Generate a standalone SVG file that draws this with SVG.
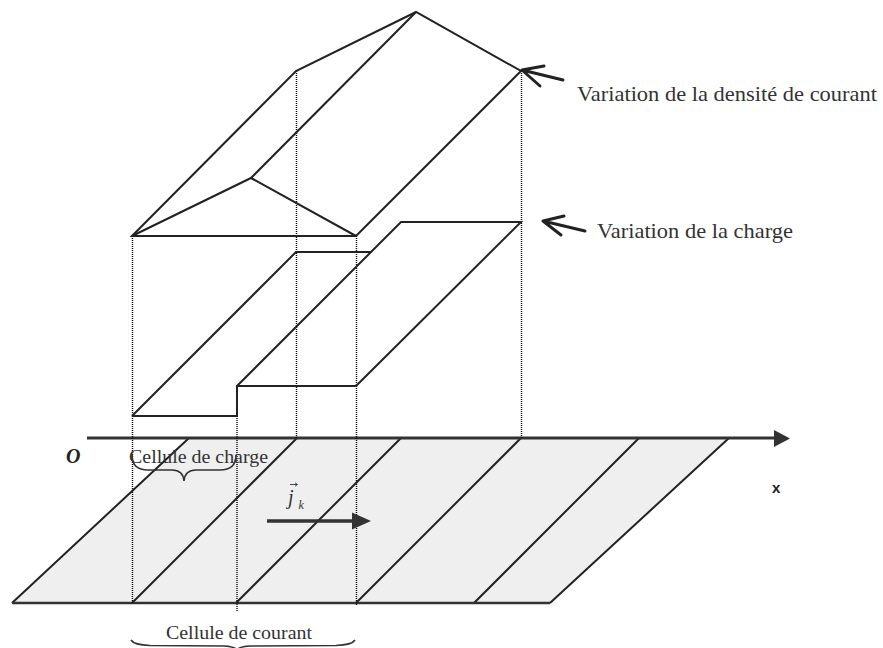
<svg xmlns="http://www.w3.org/2000/svg" width="883" height="648" viewBox="0 0 883 648">
<style>
.ln{fill:none;stroke:#222;stroke-width:2;stroke-linejoin:miter}
.dot{fill:none;stroke:#000;stroke-width:1.4;stroke-dasharray:1 1}
.lbl{font-family:"Liberation Serif","Times New Roman",serif;fill:#333}
.arr{fill:none;stroke:#222;stroke-width:3;stroke-linecap:round;stroke-linejoin:round}
.brace{fill:none;stroke:#333;stroke-width:1.6}
.sym{font-family:"Liberation Serif","Times New Roman",serif;font-weight:bold;font-style:italic;fill:#222}
.sans{font-family:"Liberation Sans",Arial,sans-serif;font-weight:bold;fill:#222}
</style>
<rect width="883" height="648" fill="#fff"/>

<g id="floor">
<path d="M189,438 L729,438 L550,603 L12,603 Z" fill="#efefef" stroke="none"/>
<path class="ln" d="M189,438 L12,603 M297,438 L132,603 M401,438 L236,603 M521,438 L356,603 M639,438 L474,603 M729,438 L550,603"/>
<line x1="12" y1="603" x2="550" y2="603" stroke="#333" stroke-width="2.6"/>
</g>

<g id="axis">
<line x1="87" y1="438" x2="776" y2="438" stroke="#333" stroke-width="3"/>
<path d="M774,430 L790,438.5 L774,447 Z" fill="#333"/>
<text class="sym" x="66" y="463" font-size="20">O</text>
<text class="sans" x="772" y="493" font-size="15">x</text>
</g>

<g id="dotted-guides">
<path class="dot" d="M132.5,236 V604 M237,416 V611 M296.5,71 V438 M356.5,236 V606 M521.5,71 V438"/>
</g>

<g id="density">
<path class="ln" d="M132,236 L296,71 L416,12 L521,71 L356,236 Z"/>
<path class="ln" d="M132,236 L251,178 L356,236 M251,178 L416,12"/>
</g>

<g id="charge">
<path class="ln" d="M132,416 L237,416 L237,386 L356,386 L521,222 L401,222 L237,386"/>
<path class="ln" d="M132,416 L296,252 L371,252"/>
</g>

<g id="current-vector">
<line x1="267" y1="521" x2="355" y2="521" stroke="#333" stroke-width="3.5"/>
<path d="M352,512.5 L371,521 L352,529.5 Z" fill="#333"/>
<text class="lbl" x="288" y="504" font-size="20" font-style="italic">j</text>
<text class="lbl" x="298.5" y="509" font-size="12" font-style="italic">k</text>
<path d="M290,484.5 L297,484.5 M295,482.8 L297.5,484.5 L295,486.2" fill="none" stroke="#333" stroke-width="0.9"/>
</g>

<g id="label-density">
<path class="arr" d="M563,80 L522,70 M522,70 L544,66 M522,70 L540,86"/>
<text class="lbl" x="577" y="101" font-size="21" textLength="300" lengthAdjust="spacingAndGlyphs">Variation de la densité de courant</text>
</g>

<g id="label-charge">
<path class="arr" d="M585,231 L543,221 M543,221 L564,216 M543,221 L561,235"/>
<text class="lbl" x="597" y="238" font-size="21" textLength="196" lengthAdjust="spacingAndGlyphs">Variation de la charge</text>
</g>

<g id="cellule-charge">
<text class="lbl" x="129" y="463" font-size="19" textLength="139" lengthAdjust="spacingAndGlyphs">Cellule de charge</text>
<path class="brace" d="M132,455 Q132,470 148,470 L172,470 Q183,470 184,481 Q185,470 196,470 L220,470 Q236,470 236,455"/>
</g>

<g id="cellule-courant">
<text class="lbl" x="166" y="639" font-size="19" textLength="146" lengthAdjust="spacingAndGlyphs">Cellule de courant</text>
<path class="brace" d="M131,640 Q134,645 150,645.5 L224,646 Q235,646.5 237,650 Q239,646.5 250,646 L336,645.5 Q352,645 355,640"/>
</g>
</svg>
